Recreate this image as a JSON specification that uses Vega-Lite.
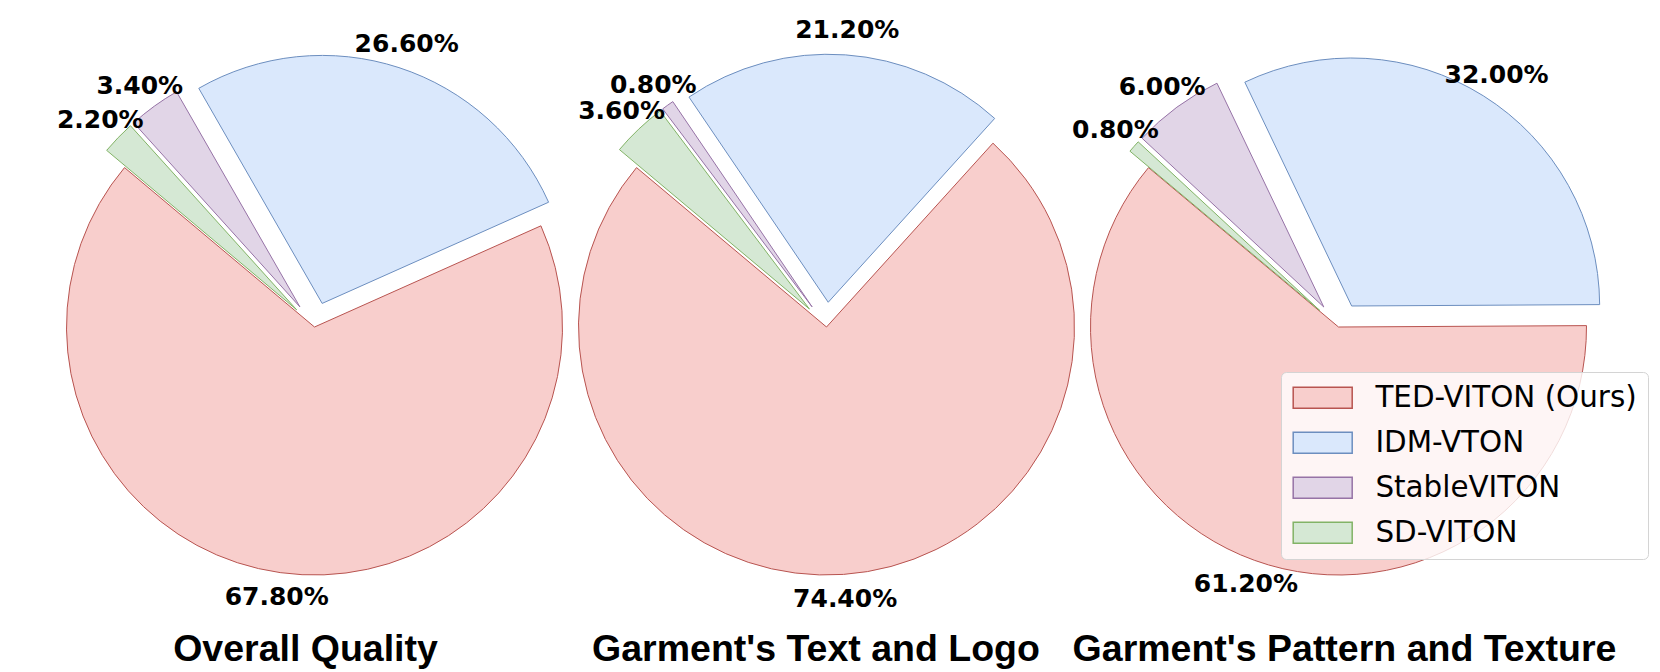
{
  "$schema": "https://vega.github.io/schema/vega-lite/v6.json",
  "padding": {"left": 56.5, "top": 0, "right": 0, "bottom": 0},
  "background": "white",
  "spacing": 0,
  "bounds": "flush",
  "datasets": {
    "votes": [
      {"chart": "Overall Quality", "model": "TED-VITON (Ours)", "share": 0.678},
      {"chart": "Overall Quality", "model": "IDM-VTON", "share": 0.266},
      {"chart": "Overall Quality", "model": "StableVITON", "share": 0.034},
      {"chart": "Overall Quality", "model": "SD-VITON", "share": 0.022},
      {"chart": "Garment's Text and Logo", "model": "TED-VITON (Ours)", "share": 0.744},
      {"chart": "Garment's Text and Logo", "model": "IDM-VTON", "share": 0.212},
      {"chart": "Garment's Text and Logo", "model": "StableVITON", "share": 0.008},
      {"chart": "Garment's Text and Logo", "model": "SD-VITON", "share": 0.036},
      {"chart": "Garment's Pattern and Texture", "model": "TED-VITON (Ours)", "share": 0.612},
      {"chart": "Garment's Pattern and Texture", "model": "IDM-VTON", "share": 0.32},
      {"chart": "Garment's Pattern and Texture", "model": "StableVITON", "share": 0.06},
      {"chart": "Garment's Pattern and Texture", "model": "SD-VITON", "share": 0.008}
    ]
  },
  "hconcat": [
    {
      "width": 512, "height": 654,
      "data": {"name": "votes"},
      "transform": [
        {"filter": {"field": "chart", "equal": "Overall Quality"}},
        {"window": [{"op": "row_number", "as": "rank"}]}
      ],
      "title": {"text": "Overall Quality", "orient": "bottom", "frame": "group", "anchor": "middle", "baseline": "alphabetic", "offset": 7, "dx": -9},
      "encoding": {
        "theta": {"field": "share", "type": "quantitative", "stack": true, "scale": {"domain": [0, 1], "range": [-0.872665, -7.155850]}},
        "order": {"field": "rank", "type": "quantitative"}
      },
      "layer": [
        {
          "mark": {"type": "arc", "outerRadius": 248, "strokeWidth": 1,
            "xOffset": {"expr": "datum.model == 'TED-VITON (Ours)' ? 0 : 24.8*sin(-0.872665 - PI*(datum.share_start + datum.share_end))"},
            "yOffset": {"expr": "datum.model == 'TED-VITON (Ours)' ? 0 : -24.8*cos(-0.872665 - PI*(datum.share_start + datum.share_end))"}},
          "encoding": {
            "fill": {"field": "model", "type": "nominal", "scale": {"domain": ["TED-VITON (Ours)", "IDM-VTON", "StableVITON", "SD-VITON"], "range": ["#F8CECC", "#DAE8FC", "#E1D5E7", "#D5E8D4"]}, "legend": {"title": null, "orient": "none", "legendX": 1222.5, "legendY": 372}},
            "stroke": {"field": "model", "type": "nominal", "scale": {"domain": ["TED-VITON (Ours)", "IDM-VTON", "StableVITON", "SD-VITON"], "range": ["#B85450", "#6C8EBF", "#9673A6", "#82B366"]}, "legend": {"title": null, "orient": "none", "legendX": 1222.5, "legendY": 372}}
          }
        },
        {
          "mark": {"type": "text", "radius": 272.8, "font": "DejaVu Sans", "fontWeight": "bold", "fontSize": 25, "color": "black", "align": "center", "baseline": "middle",
            "xOffset": {"expr": "datum.model == 'TED-VITON (Ours)' ? 0 : 24.8*sin(-0.872665 - PI*(datum.share_start + datum.share_end))"},
            "yOffset": {"expr": "datum.model == 'TED-VITON (Ours)' ? 0 : -24.8*cos(-0.872665 - PI*(datum.share_start + datum.share_end))"}},
          "encoding": {"text": {"field": "share", "type": "quantitative", "format": ".2%"}}
        }
      ]
    },
    {
      "width": 512, "height": 654,
      "data": {"name": "votes"},
      "transform": [
        {"filter": {"field": "chart", "equal": "Garment's Text and Logo"}},
        {"window": [{"op": "row_number", "as": "rank"}]}
      ],
      "title": {"text": "Garment's Text and Logo", "orient": "bottom", "frame": "group", "anchor": "middle", "baseline": "alphabetic", "offset": 7, "dx": -10.5},
      "encoding": {
        "theta": {"field": "share", "type": "quantitative", "stack": true, "scale": {"domain": [0, 1], "range": [-0.872665, -7.155850]}},
        "order": {"field": "rank", "type": "quantitative"}
      },
      "layer": [
        {
          "mark": {"type": "arc", "outerRadius": 248, "strokeWidth": 1,
            "xOffset": {"expr": "datum.model == 'TED-VITON (Ours)' ? 0 : 24.8*sin(-0.872665 - PI*(datum.share_start + datum.share_end))"},
            "yOffset": {"expr": "datum.model == 'TED-VITON (Ours)' ? 0 : -24.8*cos(-0.872665 - PI*(datum.share_start + datum.share_end))"}},
          "encoding": {
            "fill": {"field": "model", "type": "nominal", "scale": {"domain": ["TED-VITON (Ours)", "IDM-VTON", "StableVITON", "SD-VITON"], "range": ["#F8CECC", "#DAE8FC", "#E1D5E7", "#D5E8D4"]}, "legend": {"title": null, "orient": "none", "legendX": 1222.5, "legendY": 372}},
            "stroke": {"field": "model", "type": "nominal", "scale": {"domain": ["TED-VITON (Ours)", "IDM-VTON", "StableVITON", "SD-VITON"], "range": ["#B85450", "#6C8EBF", "#9673A6", "#82B366"]}, "legend": {"title": null, "orient": "none", "legendX": 1222.5, "legendY": 372}}
          }
        },
        {
          "mark": {"type": "text", "radius": 272.8, "font": "DejaVu Sans", "fontWeight": "bold", "fontSize": 25, "color": "black", "align": "center", "baseline": "middle",
            "xOffset": {"expr": "datum.model == 'TED-VITON (Ours)' ? 0 : 24.8*sin(-0.872665 - PI*(datum.share_start + datum.share_end))"},
            "yOffset": {"expr": "datum.model == 'TED-VITON (Ours)' ? 0 : -24.8*cos(-0.872665 - PI*(datum.share_start + datum.share_end))"}},
          "encoding": {"text": {"field": "share", "type": "quantitative", "format": ".2%"}}
        }
      ]
    },
    {
      "width": 512, "height": 654,
      "data": {"name": "votes"},
      "transform": [
        {"filter": {"field": "chart", "equal": "Garment's Pattern and Texture"}},
        {"window": [{"op": "row_number", "as": "rank"}]}
      ],
      "title": {"text": "Garment's Pattern and Texture", "orient": "bottom", "frame": "group", "anchor": "middle", "baseline": "alphabetic", "offset": 7, "dx": 6},
      "encoding": {
        "theta": {"field": "share", "type": "quantitative", "stack": true, "scale": {"domain": [0, 1], "range": [-0.872665, -7.155850]}},
        "order": {"field": "rank", "type": "quantitative"}
      },
      "layer": [
        {
          "mark": {"type": "arc", "outerRadius": 248, "strokeWidth": 1,
            "xOffset": {"expr": "datum.model == 'TED-VITON (Ours)' ? 0 : 24.8*sin(-0.872665 - PI*(datum.share_start + datum.share_end))"},
            "yOffset": {"expr": "datum.model == 'TED-VITON (Ours)' ? 0 : -24.8*cos(-0.872665 - PI*(datum.share_start + datum.share_end))"}},
          "encoding": {
            "fill": {"field": "model", "type": "nominal", "scale": {"domain": ["TED-VITON (Ours)", "IDM-VTON", "StableVITON", "SD-VITON"], "range": ["#F8CECC", "#DAE8FC", "#E1D5E7", "#D5E8D4"]}, "legend": {"title": null, "orient": "none", "legendX": 1222.5, "legendY": 372}},
            "stroke": {"field": "model", "type": "nominal", "scale": {"domain": ["TED-VITON (Ours)", "IDM-VTON", "StableVITON", "SD-VITON"], "range": ["#B85450", "#6C8EBF", "#9673A6", "#82B366"]}, "legend": {"title": null, "orient": "none", "legendX": 1222.5, "legendY": 372}}
          }
        },
        {
          "mark": {"type": "text", "radius": 272.8, "font": "DejaVu Sans", "fontWeight": "bold", "fontSize": 25, "color": "black", "align": "center", "baseline": "middle",
            "xOffset": {"expr": "datum.model == 'TED-VITON (Ours)' ? 0 : 24.8*sin(-0.872665 - PI*(datum.share_start + datum.share_end))"},
            "yOffset": {"expr": "datum.model == 'TED-VITON (Ours)' ? 0 : -24.8*cos(-0.872665 - PI*(datum.share_start + datum.share_end))"}},
          "encoding": {"text": {"field": "share", "type": "quantitative", "format": ".2%"}}
        }
      ]
    }
  ],
  "config": {
    "view": {"stroke": null},
    "title": {"font": "Liberation Sans", "fontWeight": "bold", "fontSize": 37.5, "color": "black"},
    "legend": {
      "labelFont": "DejaVu Sans", "labelFontSize": 29.4, "labelColor": "black", "labelLimit": 0,
      "symbolType": "M-1.286,-1H4.333V1H-1.286Z", "symbolSize": 441, "symbolStrokeWidth": 1.5, "symbolOpacity": 1,
      "labelOffset": 54, "rowPadding": 14, "padding": 11,
      "fillColor": "rgba(255,255,255,0.8)", "strokeColor": "#d4d4d4", "cornerRadius": 5
    }
  }
}
